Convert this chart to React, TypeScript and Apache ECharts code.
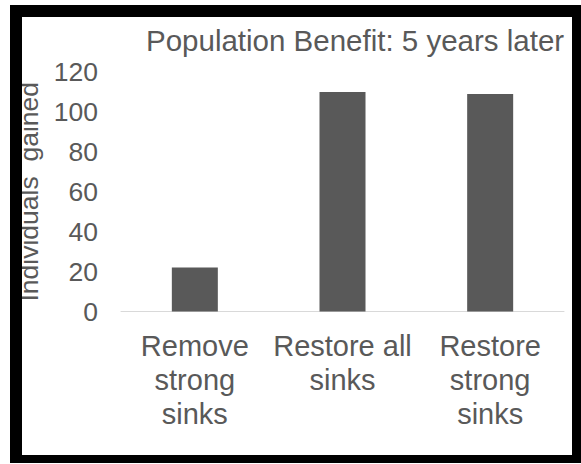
import React, { useEffect, useRef } from "react";
import * as echarts from "echarts";

const categories = ["Remove\nstrong\nsinks", "Restore all\nsinks", "Restore\nstrong\nsinks"];
const values = [22, 110, 109];
const yTicks = { min: 0, max: 120, interval: 20 };
const titleText = "Population Benefit: 5 years later";
const yName = "Individuals  gained";

const FONT = "'Liberation Sans', Arial, sans-serif";
const TXT = "#595959";

export default function App() {
  const ref = useRef<HTMLDivElement>(null);
  useEffect(() => {
    if (!ref.current) return;
    const chart = echarts.init(ref.current, undefined, { renderer: "svg" });
    chart.setOption({
      animation: false,
      backgroundColor: "#ffffff",
      title: {
        text: titleText,
        left: 146,
        top: 25,
        padding: 0,
        textStyle: { fontFamily: FONT, fontSize: 29.5, fontWeight: "normal", color: TXT },
      },
      grid: { left: 121, right: 17, top: 72, bottom: 152.5, containLabel: false },
      xAxis: {
        type: "category",
        data: categories,
        axisLine: { show: true, lineStyle: { color: "#d9d9d9", width: 1 } },
        axisTick: { show: false },
        axisLabel: {
          interval: 0,
          margin: 17,
          fontFamily: FONT,
          fontSize: 29,
          lineHeight: 34,
          color: TXT,
        },
      },
      yAxis: {
        type: "value",
        min: yTicks.min,
        max: yTicks.max,
        interval: yTicks.interval,
        name: yName,
        nameLocation: "middle",
        nameRotate: 90,
        nameGap: 79,
        nameTextStyle: { fontFamily: FONT, fontSize: 26.5, color: TXT },
        axisLine: { show: false },
        axisTick: { show: false },
        splitLine: { show: false },
        axisLabel: { margin: 23, fontFamily: FONT, fontSize: 26.5, color: TXT },
      },
      series: [
        {
          type: "bar",
          data: values,
          barWidth: 46,
          itemStyle: { color: "#595959" },
        },
      ],
      graphic: [
        { type: "rect", silent: true, z: 100, shape: { x: 10, y: 5, width: 571, height: 12 }, style: { fill: "#000" } },
        { type: "rect", silent: true, z: 100, shape: { x: 10, y: 455, width: 571, height: 8 }, style: { fill: "#000" } },
        { type: "rect", silent: true, z: 100, shape: { x: 10, y: 5, width: 12, height: 458 }, style: { fill: "#000" } },
        { type: "rect", silent: true, z: 100, shape: { x: 572, y: 5, width: 9, height: 458 }, style: { fill: "#000" } },
      ],
    });
    return () => chart.dispose();
  }, []);
  return (
    <div
      ref={ref}
      style={{ position: "absolute", left: 0, top: 0, width: 581, height: 464 }}
    />
  );
}
